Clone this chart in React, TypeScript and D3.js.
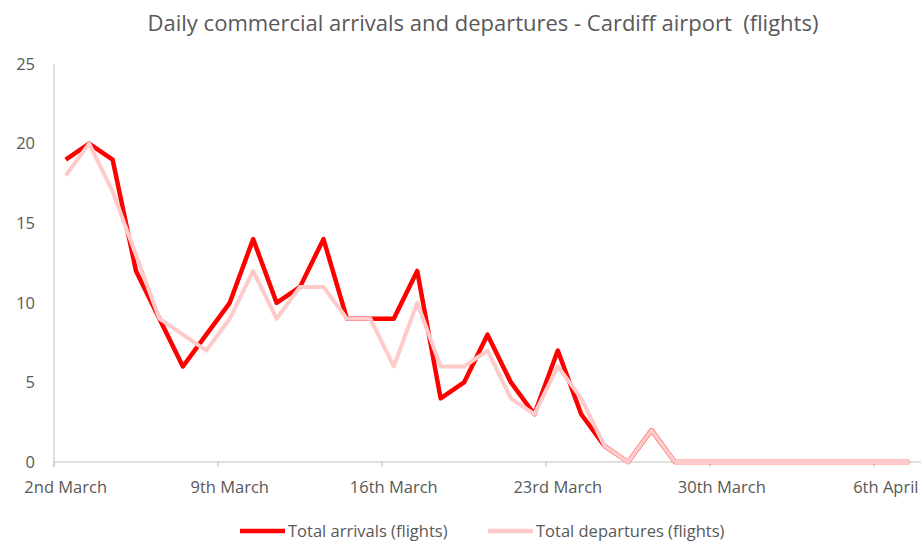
import React, { useEffect, useRef } from "react";
import * as d3 from "d3";

// one entry per day, 2 March -> 7 April
const days: string[] = [
  "02 Mar", "03 Mar", "04 Mar", "05 Mar", "06 Mar", "07 Mar", "08 Mar",
  "09 Mar", "10 Mar", "11 Mar", "12 Mar", "13 Mar", "14 Mar", "15 Mar",
  "16 Mar", "17 Mar", "18 Mar", "19 Mar", "20 Mar", "21 Mar", "22 Mar",
  "23 Mar", "24 Mar", "25 Mar", "26 Mar", "27 Mar", "28 Mar", "29 Mar",
  "30 Mar", "31 Mar", "01 Apr", "02 Apr", "03 Apr", "04 Apr", "05 Apr",
  "06 Apr", "07 Apr",
];

const arrivals: number[] = [
  19, 20, 19, 12, 9, 6, 8, 10, 14, 10, 11, 14, 9, 9, 9, 12, 4, 5, 8, 5, 3,
  7, 3, 1, 0, 2, 0, 0, 0, 0, 0, 0, 0, 0, 0, 0, 0,
];

const departures: number[] = [
  18, 20, 17, 13, 9, 8, 7, 9, 12, 9, 11, 11, 9, 9, 6, 10, 6, 6, 7, 4, 3,
  6, 4, 1, 0, 2, 0, 0, 0, 0, 0, 0, 0, 0, 0, 0, 0,
];

const tickLabels: string[] = [
  "2nd March", "9th March", "16th March", "23rd March", "30th March", "6th April",
];

const yTicks: number[] = [0, 5, 10, 15, 20, 25];

const title = "Daily commercial arrivals and departures - Cardiff airport  (flights)";
const seriesNames: string[] = ["Total arrivals (flights)", "Total departures (flights)"];
const seriesColors: string[] = ["#ff0000", "#ffcaca"];

const FONT = "'Open Sans', 'Noto Sans', sans-serif";
const TEXT = "#595959";

export default function App() {
  const svgRef = useRef<SVGSVGElement | null>(null);

  useEffect(() => {
    const width = 924;
    const height = 541;
    const margin = { top: 64, right: 3, bottom: 79, left: 54 };

    const svg = d3.select(svgRef.current);
    svg.selectAll("*").remove();
    svg.attr("width", width).attr("height", height);

    svg.append("rect").attr("width", width).attr("height", height).attr("fill", "#fff");

    const x = d3
      .scaleBand<string>()
      .domain(days)
      .range([margin.left, width - margin.right])
      .padding(0);

    const y = d3
      .scaleLinear()
      .domain([0, 25])
      .range([height - margin.bottom, margin.top]);

    const cx = (i: number) => (x(days[i]) as number) + x.bandwidth() / 2;

    // title
    svg
      .append("text")
      .attr("x", 483)
      .attr("y", 31)
      .attr("text-anchor", "middle")
      .attr("font-family", FONT)
      .attr("font-size", 22)
      .attr("fill", TEXT)
      .style("white-space", "pre")
      .text(title);

    // y axis line + labels
    svg
      .append("line")
      .attr("x1", margin.left)
      .attr("x2", margin.left)
      .attr("y1", y(25))
      .attr("y2", y(0) + 5)
      .attr("stroke", "#bfbfbf")
      .attr("stroke-width", 1);

    svg
      .selectAll(".ylab")
      .data(yTicks)
      .enter()
      .append("text")
      .attr("class", "ylab")
      .attr("x", 35)
      .attr("y", (d) => y(d))
      .attr("dy", "0.35em")
      .attr("text-anchor", "end")
      .attr("font-family", FONT)
      .attr("font-size", 16.5)
      .attr("fill", TEXT)
      .text((d) => d);

    // x axis: ticks on category boundaries, labels centred on the category
    svg
      .append("line")
      .attr("x1", margin.left)
      .attr("x2", width - margin.right)
      .attr("y1", y(0))
      .attr("y2", y(0))
      .attr("stroke", "#bfbfbf")
      .attr("stroke-width", 1);

    const tickIdx = tickLabels.map((_, k) => k * 7);

    svg
      .selectAll(".xtick")
      .data(tickIdx)
      .enter()
      .append("line")
      .attr("class", "xtick")
      .attr("x1", (i) => x(days[i]) as number)
      .attr("x2", (i) => x(days[i]) as number)
      .attr("y1", y(0))
      .attr("y2", y(0) + 5)
      .attr("stroke", "#bfbfbf");

    svg
      .selectAll(".xlab")
      .data(tickIdx)
      .enter()
      .append("text")
      .attr("class", "xlab")
      .attr("x", (i) => cx(i))
      .attr("y", y(0) + 31)
      .attr("text-anchor", "middle")
      .attr("font-family", FONT)
      .attr("font-size", 16.5)
      .attr("fill", TEXT)
      .text((_, k) => tickLabels[k]);

    // lines
    const line = d3
      .line<number>()
      .x((_, i) => cx(i))
      .y((d) => y(d));

    [arrivals, departures].forEach((s, k) => {
      svg
        .append("path")
        .datum(s)
        .attr("fill", "none")
        .attr("stroke", seriesColors[k])
        .attr("stroke-width", k === 0 ? 4.5 : 4)
        .attr("stroke-linejoin", "round")
        .attr("d", line);
    });

    // legend
    const legendX = [240, 488];
    seriesNames.forEach((name, k) => {
      const g = svg.append("g").attr("transform", `translate(${legendX[k]},531)`);
      g.append("line")
        .attr("x1", 0)
        .attr("x2", 45)
        .attr("stroke", seriesColors[k])
        .attr("stroke-width", 4.5);
      g.append("text")
        .attr("x", 48)
        .attr("dy", "0.35em")
        .attr("font-family", FONT)
        .attr("font-size", 16.5)
        .attr("fill", TEXT)
        .text(name);
    });
  }, []);

  return (
    <div style={{ position: "absolute", left: 0, top: 0 }}>
      <svg ref={svgRef} />
    </div>
  );
}
